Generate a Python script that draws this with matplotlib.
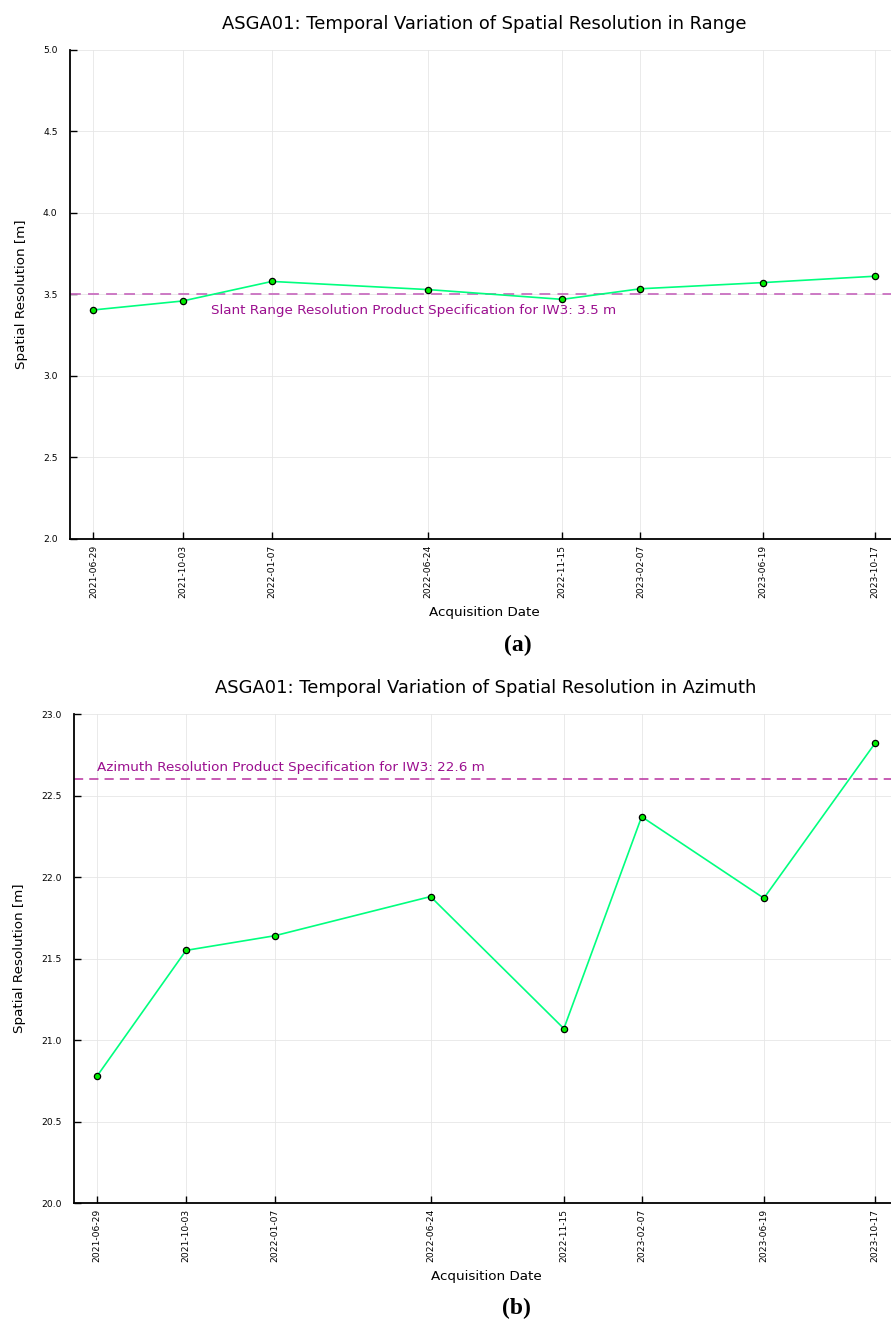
import datetime as dt
import matplotlib
matplotlib.use("Agg")
from matplotlib import pyplot as plt
import matplotlib.dates as mdates

dates = ["2021-06-29", "2021-10-03", "2022-01-07", "2022-06-24",
         "2022-11-15", "2023-02-07", "2023-06-19", "2023-10-17"]
range_res = [3.405, 3.46, 3.58, 3.53, 3.47, 3.535, 3.573, 3.612]
azimuth_res = [20.78, 21.55, 21.64, 21.88, 21.07, 22.37, 21.87, 22.82]
range_spec = 3.5
azimuth_spec = 22.6

days = [dt.datetime.strptime(d, "%Y-%m-%d") for d in dates]


def style_axes(ax, ylo, yhi):
    for s in ["top", "right"]:
        ax.spines[s].set_visible(False)
    for s in ["left", "bottom"]:
        ax.spines[s].set_linewidth(1.3)
    ax.set_ylim(ylo, yhi)
    ax.set_yticks([ylo + 0.5 * i for i in range(7)])
    ax.set_xlim(days[0] - dt.timedelta(days=25), days[-1] + dt.timedelta(days=25))
    ax.set_xticks(days)
    ax.xaxis.set_major_formatter(mdates.DateFormatter("%Y-%m-%d"))
    ax.tick_params(axis="x", direction="in", rotation=90, labelsize=6.6, length=5, width=1, pad=4)
    ax.tick_params(axis="y", direction="in", labelsize=6.6, length=5, width=1, pad=9)
    ax.grid(True, color="#e6e6e6", linewidth=0.6)
    ax.set_axisbelow(True)
    ax.set_xlabel("Acquisition Date", fontsize=9.7, labelpad=6)
    ax.set_ylabel("Spatial Resolution [m]", fontsize=9.7, labelpad=11)


fig = plt.figure(figsize=(8.91, 13.22), dpi=100)

# (a) range
ax1 = fig.add_axes([0.0786, 0.5923, 0.9294, 0.3699])
ax1.axhline(range_spec, color="#c970c0", linestyle=(0, (6, 4)), linewidth=1.3)
ax1.plot(days, range_res, color="#00ff7f", linewidth=1.2, marker="o", markersize=4.5,
         markerfacecolor="#00ee00", markeredgecolor="black", markeredgewidth=0.9)
ax1.text(dt.datetime(2021, 11, 3), 3.40, "Slant Range Resolution Product Specification for IW3: 3.5 m",
         color="#9b0f8f", fontsize=9.7, va="center", ha="left")
style_axes(ax1, 2.0, 5.0)
ax1.set_title("ASGA01: Temporal Variation of Spatial Resolution in Range", fontsize=12.9, pad=15)

# (b) azimuth
ax2 = fig.add_axes([0.0831, 0.0900, 0.9249, 0.3699])
ax2.axhline(azimuth_spec, color="#b8309f", linestyle=(0, (6, 4)), linewidth=1.1)
ax2.plot(days, azimuth_res, color="#00ff7f", linewidth=1.2, marker="o", markersize=4.5,
         markerfacecolor="#00ee00", markeredgecolor="black", markeredgewidth=0.9)
ax2.text(days[0], 22.67, "Azimuth Resolution Product Specification for IW3: 22.6 m",
         color="#9b0f8f", fontsize=9.7, va="center", ha="left")
style_axes(ax2, 20.0, 23.0)
ax2.set_title("ASGA01: Temporal Variation of Spatial Resolution in Azimuth", fontsize=12.9, pad=15)

fig.text(0.581, 1 - 645 / 1322, "(a)", fontsize=17, fontweight="bold", family="Liberation Serif",
         ha="center", va="center")
fig.text(0.580, 1 - 1308 / 1322, "(b)", fontsize=17, fontweight="bold", family="Liberation Serif",
         ha="center", va="center")

plt.savefig("out.png", dpi=100)
